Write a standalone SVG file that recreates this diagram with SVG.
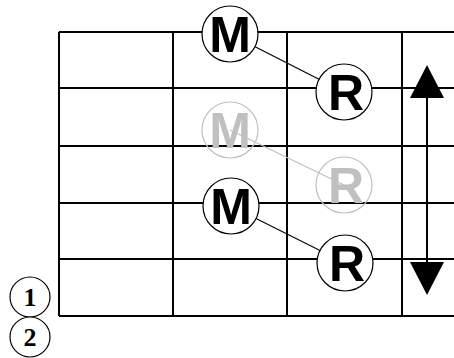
<svg xmlns="http://www.w3.org/2000/svg" width="454" height="358" viewBox="0 0 454 358">
<style>
.grid{stroke:#000;stroke-width:2;fill:none}
.conn{stroke:#000;stroke-width:1.2}
.connG{stroke:#c0c0c0;stroke-width:1.2}
.node{fill:#fff;stroke:#000;stroke-width:1.2}
.nodeG{fill:none;stroke:#c0c0c0;stroke-width:1.2}
.lbl{font-family:"Liberation Sans",Arial,sans-serif;font-weight:bold;font-size:50px;text-anchor:middle;fill:#000}
.lblG{font-family:"Liberation Sans",Arial,sans-serif;font-weight:bold;font-size:50px;text-anchor:middle;fill:#c0c0c0}
.num{font-family:"Liberation Serif","Times New Roman",serif;font-weight:bold;font-size:26px;text-anchor:middle;fill:#000}
</style>
<g id="grid" class="grid">
<path d="M59,32 H454 M59,88 H454 M59,146 H454 M59,203 H454 M59,259 H454 M59,316 H454"/>
<path d="M59,32 V316 M173,32 V316 M287,32 V316 M402,32 V316"/>
</g>
<g id="connectors">
<line class="conn" x1="230" y1="34" x2="344" y2="92"/>
<line class="connG" x1="230" y1="130" x2="344" y2="185"/>
<line class="conn" x1="231" y1="206" x2="345" y2="263"/>
<line stroke="#000" stroke-width="2" x1="427" y1="98" x2="427" y2="262"/>
<path d="M427,65 L444,98 L410,98 Z" fill="#000"/>
<path d="M427,295 L444,262 L410,262 Z" fill="#000"/>
</g>
<g id="m1"><circle class="node" cx="230" cy="34" r="28"/><text class="lbl" x="230" y="52">M</text></g>
<g id="r1"><circle class="node" cx="344" cy="92" r="28"/><text class="lbl" x="346" y="110">R</text></g>
<g id="m2"><circle class="nodeG" cx="230" cy="130" r="28"/><text class="lblG" x="230" y="148">M</text></g>
<g id="r2"><circle class="nodeG" cx="344" cy="185" r="28"/><text class="lblG" x="346" y="203">R</text></g>
<g id="m3"><circle class="node" cx="231" cy="206" r="28"/><text class="lbl" x="231" y="224">M</text></g>
<g id="r3"><circle class="node" cx="345" cy="263" r="28"/><text class="lbl" x="347" y="281">R</text></g>
<g id="s1"><circle class="node" cx="30" cy="297" r="20"/><text class="num" x="30" y="306">1</text></g>
<g id="s2"><circle class="node" cx="30" cy="337" r="20"/><text class="num" x="30" y="346">2</text></g>
</svg>
